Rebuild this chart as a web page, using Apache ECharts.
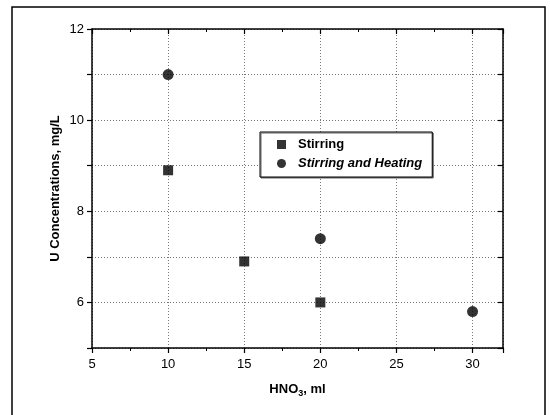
<!DOCTYPE html>
<html>
<head>
<meta charset="utf-8">
<script src="https://cdn.jsdelivr.net/npm/echarts@6/dist/echarts.min.js"></script>
<style>
  html, body { margin: 0; padding: 0; background: #fff; }
  #chart { width: 550px; height: 415px; }
</style>
</head>
<body>
<div id="chart"></div>
<script>
// data
const stirX = [10, 15, 20];
const stirY = [8.9, 6.9, 6.0];
const heatX = [10, 20, 30];
const heatY = [11.0, 7.4, 5.8];
const seriesNames = ['Stirring', 'Stirring and Heating'];

const font = 'Liberation Sans, Arial, sans-serif';
const gridLine = { show: true, lineStyle: { color: '#777', type: [1, 2], width: 1 } };

const chart = echarts.init(document.getElementById('chart'));
chart.setOption({
  backgroundColor: '#fff',
  animation: false,
  textStyle: { fontFamily: font, color: '#000' },
  grid: { left: 92, right: 47, top: 29, bottom: 67 },
  // outer frame of the figure
  graphic: [{
    type: 'rect',
    shape: { x: 12, y: 7, width: 533, height: 420 },
    style: { fill: 'none', stroke: '#000', lineWidth: 1.5 },
    silent: true
  }],
  legend: {
    orient: 'vertical',
    left: 260, top: 132,
    padding: [6, 10, 7, 17],
    itemGap: 6,
    itemWidth: 9, itemHeight: 9,
    borderColor: '#000', borderWidth: 1,
    backgroundColor: '#fff',
    shadowColor: '#666', shadowOffsetX: 1, shadowOffsetY: 1, shadowBlur: 0,
    data: [
      { name: seriesNames[0], icon: 'rect' },
      { name: seriesNames[1], icon: 'circle' }
    ],
    formatter: name => name === seriesNames[0] ? '{a|' + name + '}' : '{b|' + name + '}',
    textStyle: {
      fontFamily: font,
      padding: [0, 0, 0, 7],
      rich: {
        a: { fontFamily: font, fontSize: 13, fontWeight: 'bold', color: '#000' },
        b: { fontFamily: font, fontSize: 13, fontWeight: 'bold', fontStyle: 'italic', color: '#000' }
      }
    }
  },
  xAxis: [{
    type: 'value', position: 'bottom',
    min: 5, max: 32, interval: 5,
    name: '{m|HNO}{s|3}{m|, ml}',
    nameLocation: 'middle', nameGap: 33,
    nameTextStyle: {
      rich: {
        m: { fontFamily: font, fontSize: 13, fontWeight: 'bold', color: '#000' },
        s: { fontFamily: font, fontSize: 9, fontWeight: 'bold', color: '#000', verticalAlign: 'bottom', padding: [8, 0, 0, 0] }
      }
    },
    axisLine: { onZero: false, lineStyle: { color: '#000', width: 1.5 } },
    axisTick: { inside: false, length: 5, lineStyle: { color: '#000', width: 1.2 } },
    minorTick: { show: true, splitNumber: 2, length: 3, lineStyle: { color: '#000' } },
    axisLabel: { margin: 10, fontSize: 13, color: '#000', fontFamily: font, showMaxLabel: false },
    splitLine: gridLine
  }, {
    type: 'value', position: 'top',
    min: 5, max: 32, interval: 5,
    axisLine: { onZero: false, lineStyle: { color: '#000', width: 1.5 } },
    axisTick: { inside: true, length: 5, lineStyle: { color: '#000', width: 1.2 } },
    minorTick: { show: true, splitNumber: 2, length: 3, lineStyle: { color: '#000' } },
    axisLabel: { show: false },
    splitLine: { show: false }
  }],
  yAxis: [{
    type: 'value', position: 'left',
    min: 5, max: 12, interval: 1,
    name: 'U Concentrations, mg/L',
    nameLocation: 'middle', nameGap: 30,
    nameMoveOverlap: false,
    nameTextStyle: { fontFamily: font, fontSize: 13, fontWeight: 'bold', color: '#000' },
    axisLine: { onZero: false, lineStyle: { color: '#000', width: 1.5 } },
    axisTick: { inside: false, length: 5, lineStyle: { color: '#000', width: 1.2 } },
    axisLabel: {
      margin: 8, fontSize: 13, color: '#000', fontFamily: font,
      formatter: v => (v % 2 === 0 ? String(v) : '')
    },
    splitLine: gridLine
  }, {
    type: 'value', position: 'right',
    min: 5, max: 12, interval: 1,
    axisLine: { onZero: false, lineStyle: { color: '#000', width: 1.5 } },
    axisTick: { inside: true, length: 5, lineStyle: { color: '#000', width: 1.2 } },
    axisLabel: { show: false },
    splitLine: { show: false }
  }],
  series: [{
    name: seriesNames[0],
    type: 'scatter',
    symbol: 'rect', symbolSize: 10,
    itemStyle: { color: '#000' },
    data: stirX.map((x, i) => [x, stirY[i]])
  }, {
    name: seriesNames[1],
    type: 'scatter',
    symbol: 'circle', symbolSize: 11,
    itemStyle: { color: '#000' },
    data: heatX.map((x, i) => [x, heatY[i]])
  }]
});
</script>
</body>
</html>
